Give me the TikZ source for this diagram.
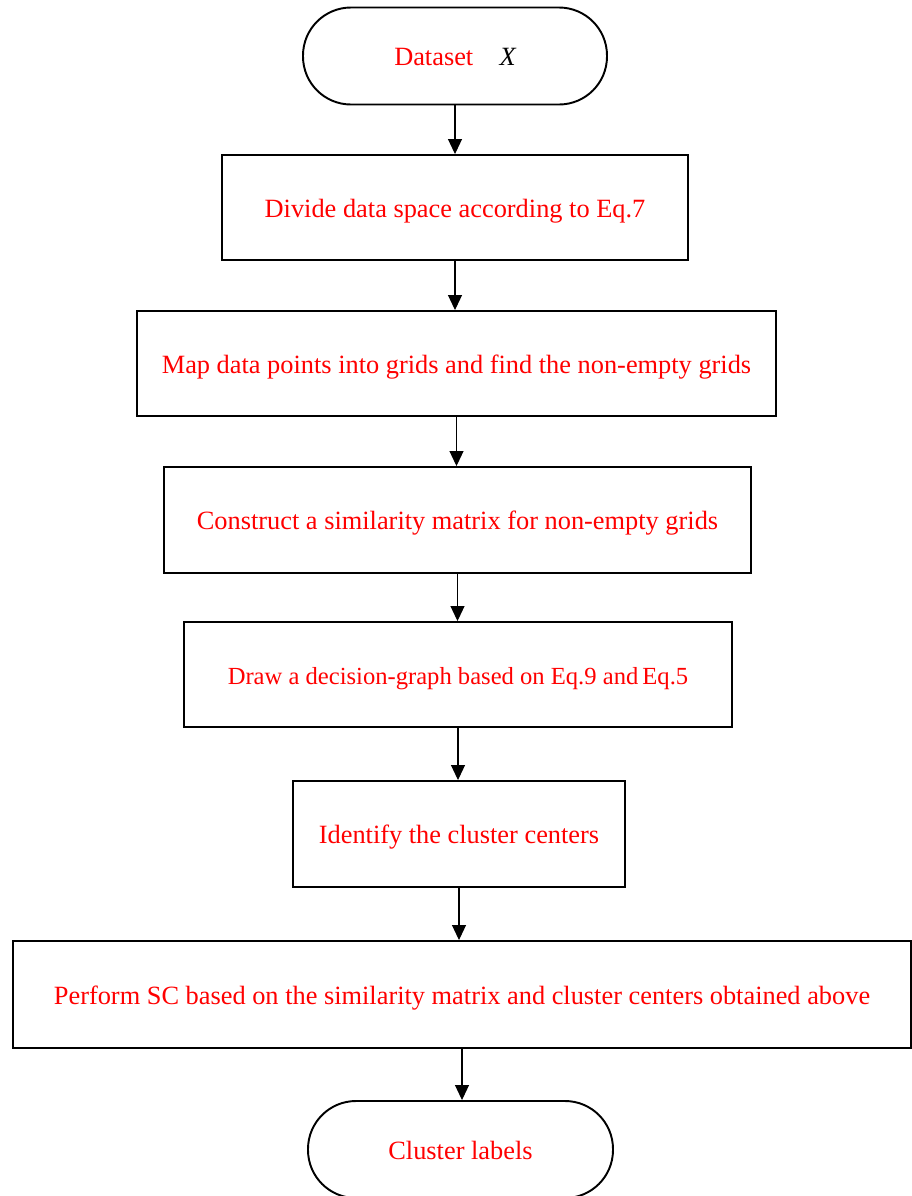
\documentclass[tikz,border=0pt]{standalone}
\usepackage{fontspec}
\setmainfont{Liberation Serif}
\usepackage{xcolor}
\usetikzlibrary{arrows.meta}

\begin{document}
\begin{tikzpicture}[
    stepbox/.style={draw, line width=1.1pt, align=center, text=red,
                    font=\fontsize{15}{18}\selectfont, minimum height=2.1cm,
                    text height=0.45cm, text depth=0.07cm},
    term/.style={draw, rectangle, rounded corners=0.96cm, line width=1.1pt, text=red,
                 font=\fontsize{15}{18}\selectfont, minimum width=6.08cm, minimum height=1.94cm,
                 text height=0.45cm, text depth=0.07cm},
    arr/.style={-{Triangle[length=0.3cm, width=0.28cm]}, line width=0.6pt}
]
\useasboundingbox (0,0) rectangle (18.24,-23.92);

\node[term] (data) at (9.10,-1.12) {Dataset\quad{\color{black}\itshape X}};
\node[stepbox, minimum width=9.32cm] (divide) at (9.10,-4.15) {Divide data space according to Eq.7};
\node[stepbox, minimum width=12.78cm] (map) at (9.13,-7.27) {Map data points into grids and find the non-empty grids};
\node[stepbox, minimum width=11.74cm, minimum height=2.12cm] (simmat) at (9.15,-10.40) {Construct a similarity matrix for non-empty grids};
\node[stepbox, minimum width=10.96cm, font=\fontsize{14}{17}\selectfont] (decision) at (9.16,-13.49) {Draw a decision-graph based on Eq.9 and\,Eq.5};
\node[stepbox, minimum width=6.64cm, minimum height=2.12cm] (centers) at (9.18,-16.68) {Identify the cluster centers};
\node[stepbox, minimum width=17.96cm, minimum height=2.14cm] (sc) at (9.24,-19.89) {Perform SC based on the similarity matrix and cluster centers obtained above};
\node[term, minimum width=6.1cm] (labels) at (9.21,-22.99) {Cluster labels};

\draw[arr] (data.south) -- (data.south |- divide.north);
\draw[arr] (divide.south) -- (divide.south |- map.north);
\draw[arr] (map.south) -- (map.south |- simmat.north);
\draw[arr] (simmat.south) -- (simmat.south |- decision.north);
\draw[arr] (decision.south) -- (decision.south |- centers.north);
\draw[arr] (centers.south) -- (centers.south |- sc.north);
\draw[arr] (sc.south) -- (sc.south |- labels.north);
\end{tikzpicture}
\end{document}
